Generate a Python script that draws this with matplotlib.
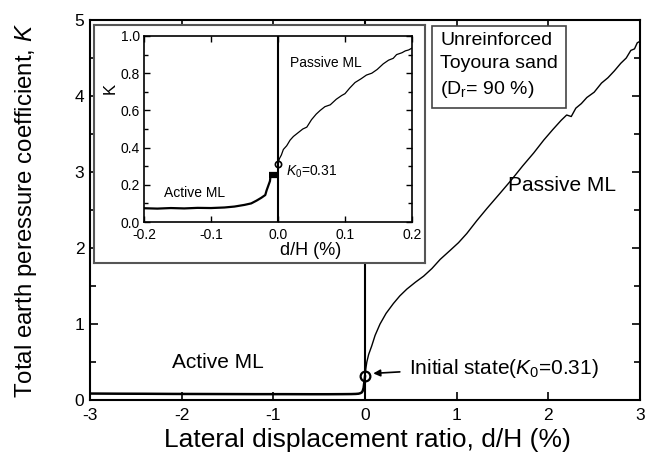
import matplotlib
matplotlib.use("Agg")
import matplotlib.pyplot as plt
from matplotlib.ticker import MultipleLocator

plt.rcParams['font.family'] = ['Liberation Sans', 'DejaVu Sans']
plt.rcParams['mathtext.fontset'] = 'custom'
plt.rcParams['mathtext.rm'] = 'Liberation Sans'
plt.rcParams['mathtext.it'] = 'Liberation Sans:italic'
plt.rcParams['axes.unicode_minus'] = False

# ---- main test: K versus lateral displacement ratio d/H (%) ----
K0 = 0.31

active_x = [-3.0, -2.7, -2.4, -2.1, -1.8, -1.5, -1.2, -0.9, -0.6, -0.4, -0.25,
            -0.15, -0.1, -0.07, -0.05, -0.035, -0.025, -0.015, -0.008, 0.0]
active_k = [0.085, 0.083, 0.082, 0.080, 0.079, 0.078, 0.077, 0.077, 0.076, 0.076,
            0.077, 0.078, 0.080, 0.083, 0.090, 0.100, 0.120, 0.160, 0.230, 0.31]

passive_x = [0.0, 0.01, 0.02, 0.04, 0.073, 0.11, 0.164, 0.23, 0.31, 0.38, 0.457,
             0.55, 0.64, 0.73, 0.82, 0.93, 1.02, 1.11, 1.22, 1.33, 1.48, 1.6,
             1.72, 1.84, 1.95, 2.05, 2.14, 2.2, 2.25, 2.3, 2.36, 2.42, 2.5, 2.58,
             2.65, 2.72, 2.79, 2.85, 2.9, 2.94, 2.97, 3.0]
passive_k = [0.31, 0.42, 0.50, 0.60, 0.71, 0.85, 1.00, 1.14, 1.27, 1.37, 1.46,
             1.55, 1.63, 1.73, 1.85, 1.97, 2.07, 2.19, 2.36, 2.52, 2.73, 2.90,
             3.08, 3.25, 3.42, 3.56, 3.68, 3.75, 3.73, 3.84, 3.90, 3.98, 4.05,
             4.17, 4.24, 4.33, 4.43, 4.50, 4.60, 4.62, 4.70, 4.72]

# ---- close-up around the initial state ----
ins_active_x = [-0.2, -0.18, -0.16, -0.14, -0.12, -0.1, -0.08, -0.065, -0.05,
                -0.04, -0.032, -0.025, -0.019, -0.017, -0.015, -0.012, -0.011]
ins_active_k = [0.074, 0.072, 0.075, 0.073, 0.076, 0.075, 0.078, 0.083, 0.092,
                0.100, 0.115, 0.130, 0.145, 0.170, 0.190, 0.220, 0.255]
ins_hold_x = [-0.014, -0.002]
ins_hold_k = [0.255, 0.255]
ins_passive_x = [0.0, 0.002, 0.005, 0.008, 0.013, 0.018, 0.023, 0.03, 0.037,
                 0.043, 0.05, 0.057, 0.063, 0.07, 0.078, 0.087, 0.095, 0.1,
                 0.107, 0.115, 0.124, 0.132, 0.14, 0.148, 0.157, 0.165, 0.172,
                 0.177, 0.185, 0.19, 0.195, 0.2]
ins_passive_k = [0.31, 0.34, 0.36, 0.39, 0.41, 0.44, 0.46, 0.48, 0.50, 0.51,
                 0.55, 0.58, 0.60, 0.62, 0.63, 0.66, 0.68, 0.69, 0.72, 0.75,
                 0.77, 0.79, 0.80, 0.82, 0.85, 0.87, 0.88, 0.90, 0.91, 0.92,
                 0.925, 0.935]

W, H = 661, 465
fig = plt.figure(figsize=(W / 100, H / 100), dpi=100)


def frac(x0, y0, x1, y1):
    return [x0 / W, 1 - y1 / H, (x1 - x0) / W, (y1 - y0) / H]


ax = fig.add_axes(frac(90, 20, 640, 400))
ax.axvline(0, color='black', lw=1.5, zorder=1)
ax.plot(active_x, active_k, color='black', lw=1.8, zorder=2)
ax.plot(passive_x, passive_k, color='black', lw=1.0, zorder=2)
ax.plot([0], [K0], marker='o', ms=7, mfc='none', mec='black', mew=1.6, zorder=3)

ax.set_xlim(-3, 3)
ax.set_ylim(0, 5)
ax.xaxis.set_major_locator(MultipleLocator(1))
ax.yaxis.set_major_locator(MultipleLocator(1))
ax.yaxis.set_minor_locator(MultipleLocator(0.5))
ax.tick_params(which='both', direction='in', top=True, right=True,
               labelsize=12.5, width=1.2)
ax.tick_params(which='major', length=6)
ax.tick_params(which='minor', length=4)
ax.tick_params(axis='x', pad=6)
ax.tick_params(axis='y', pad=4)
for s in ax.spines.values():
    s.set_linewidth(1.5)

ax.set_xlabel('Lateral displacement ratio, d/H (%)', fontsize=19)
ax.set_ylabel(r'Total earth peressure coefficient, $\mathit{K}$', fontsize=17.3)
ax.xaxis.set_label_coords(0.505, -0.074)
ax.yaxis.set_label_coords(-0.093, 0.5)

ax.text(-1.6, 0.49, 'Active ML', fontsize=15, ha='center', va='center')
ax.text(2.15, 2.82, 'Passive ML', fontsize=15, ha='center', va='center')
ax.annotate('', xy=(0.09, 0.35), xytext=(0.38, 0.37),
            arrowprops=dict(arrowstyle='-|>', color='black', lw=1.2,
                            mutation_scale=10, shrinkA=0, shrinkB=0))
ax.text(0.48, 0.42, r'Initial state($\mathit{K_0}$=0.31)', fontsize=15,
        ha='left', va='center')
ax.text(0.82, 4.84, 'Unreinforced\nToyoura sand\n(D$_\\mathrm{r}$= 90 %)',
        fontsize=14, ha='left', va='top', linespacing=1.45,
        bbox=dict(boxstyle='square,pad=0.4', fc='white', ec='#444444', lw=1.2))

# backing panel for the close-up
panel = fig.add_axes(frac(94, 25, 425, 263))
panel.set_xticks([])
panel.set_yticks([])
panel.set_facecolor('white')
for s in panel.spines.values():
    s.set_color('#555555')
    s.set_linewidth(1.5)

ins = fig.add_axes(frac(144, 36, 412, 222))
ins.axvline(0, color='black', lw=1.5, zorder=1)
ins.plot(ins_active_x, ins_active_k, color='black', lw=1.6, zorder=2)
ins.plot(ins_hold_x, ins_hold_k, color='black', lw=4.5, solid_capstyle='butt', zorder=2)
ins.plot(ins_passive_x, ins_passive_k, color='black', lw=0.9, zorder=2)
ins.plot([0], [K0], marker='o', ms=4.5, mfc='none', mec='black', mew=1.2, zorder=3)
ins.set_xlim(-0.2, 0.2)
ins.set_ylim(0, 1)
ins.xaxis.set_major_locator(MultipleLocator(0.1))
ins.yaxis.set_major_locator(MultipleLocator(0.2))
ins.yaxis.set_minor_locator(MultipleLocator(0.1))
ins.tick_params(which='both', direction='in', top=True, right=True,
                labelsize=10, width=1.0)
ins.tick_params(which='major', length=4)
ins.tick_params(which='minor', length=3)
ins.tick_params(axis='x', pad=4)
ins.tick_params(axis='y', pad=3)
for s in ins.spines.values():
    s.set_linewidth(1.2)
ins.set_xlabel('d/H (%)', fontsize=13)
ins.set_ylabel('K', fontsize=12)
ins.xaxis.set_label_coords(0.62, -0.11)
ins.yaxis.set_label_coords(-0.1, 0.72)
ins.text(0.018, 0.855, 'Passive ML', fontsize=10, ha='left', va='center')
ins.text(-0.17, 0.156, 'Active ML', fontsize=10, ha='left', va='center')
ins.text(0.012, 0.27, r'$\mathit{K_0}$=0.31', fontsize=10, ha='left', va='center')

fig.savefig('out.png', dpi=100)
